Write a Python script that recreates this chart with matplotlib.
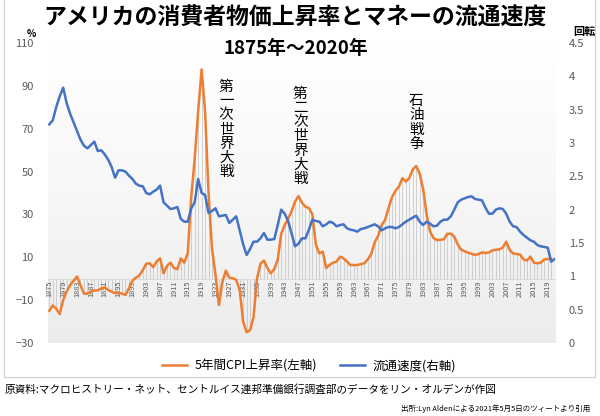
import numpy as np
import matplotlib
matplotlib.use("Agg")
import matplotlib.pyplot as plt
from matplotlib.colors import LinearSegmentedColormap
from matplotlib.lines import Line2D

plt.rcParams['font.family'] = ['Noto Sans CJK JP', 'DejaVu Sans']

# ---- data ----
start_year = 1875
cpi_5y = [
    -15, -12.5, -14, -16.5, -10, -6, -3, -1, 1, -3,            # 1875-1884
    -7, -7, -6, -5.5, -5.5, -4.5, -4, -5.3, -6, -6.8,          # 1885-1894
    -6.5, -7, -7.6, -4.5, -1, 0.5, 1.5, 4, 7, 7.2,             # 1895-1904
    5.4, 8, 9.5, 2.5, 6, 7.5, 5, 4.5, 9.5, 7.5,                # 1905-1914
    12, 38, 56, 78, 97.7, 78, 40, 14, 2, -12.3,                # 1915-1924
    -1.5, 3.8, 0.5, 0.2, -0.5, -5.3, -20, -25, -24, -18,       # 1925-1934
    0, 7, 8.5, 5, 2.5, 4.5, 9, 21, 25, 28,                     # 1935-1944
    31.5, 36, 38.6, 35.5, 33.6, 33, 30, 16, 11.8, 12.6,        # 1945-1954
    5, 6.5, 7.5, 8, 10.3, 9.5, 8, 6.4, 6.4, 6.4,               # 1955-1964
    6.8, 7.2, 9, 11.5, 17, 20, 25, 27.4, 33, 38,               # 1965-1974
    41, 43, 46.9, 45.3, 47, 51, 52.6, 49, 42, 30,              # 1975-1984
    22, 19, 18, 18.2, 18.4, 21, 21, 19.6, 16, 13.5,            # 1985-1994
    12.8, 12.2, 11.6, 11.1, 11.5, 12.3, 12, 12.2, 13.2, 13.5,  # 1995-2004
    13.7, 14.5, 17.3, 13.4, 11.8, 11.5, 11.3, 9, 8.5, 10.3,    # 2005-2014
    7.5, 7.2, 7.5, 9, 9.2, 9.3,                                # 2015-2020
]
velocity = [
    3.28, 3.34, 3.54, 3.70, 3.83, 3.60, 3.44, 3.31, 3.18, 3.05,  # 1875-1884
    2.96, 2.92, 2.97, 3.02, 2.88, 2.89, 2.83, 2.75, 2.64, 2.48,  # 1885-1894
    2.59, 2.59, 2.57, 2.51, 2.46, 2.39, 2.36, 2.35, 2.25, 2.23,  # 1895-1904
    2.27, 2.30, 2.36, 2.11, 2.06, 2.01, 2.02, 2.04, 1.86, 1.82,  # 1905-1914
    1.82, 2.02, 2.11, 2.46, 2.25, 2.22, 1.95, 1.98, 2.02, 1.90,  # 1915-1924
    1.91, 1.92, 1.80, 1.85, 1.90, 1.69, 1.48, 1.32, 1.41, 1.52,  # 1925-1934
    1.52, 1.57, 1.65, 1.55, 1.55, 1.56, 1.77, 2.00, 1.94, 1.83,  # 1935-1944
    1.64, 1.45, 1.49, 1.57, 1.57, 1.70, 1.85, 1.83, 1.82, 1.75,  # 1945-1954
    1.78, 1.82, 1.80, 1.75, 1.77, 1.78, 1.72, 1.70, 1.69, 1.67,  # 1955-1964
    1.71, 1.72, 1.74, 1.76, 1.78, 1.75, 1.69, 1.72, 1.74, 1.74,  # 1965-1974
    1.72, 1.74, 1.78, 1.82, 1.85, 1.88, 1.91, 1.82, 1.77, 1.82,  # 1975-1984
    1.79, 1.75, 1.76, 1.82, 1.85, 1.85, 1.90, 2.00, 2.11, 2.15,  # 1985-1994
    2.17, 2.19, 2.20, 2.16, 2.15, 2.14, 2.03, 1.94, 1.94, 2.00,  # 1995-2004
    2.02, 2.01, 1.94, 1.82, 1.75, 1.74, 1.67, 1.62, 1.58, 1.54,  # 2005-2014
    1.52, 1.47, 1.45, 1.44, 1.43, 1.22, 1.26,                    # 2015-2021
]
cpi_years = np.arange(start_year, start_year + len(cpi_5y))
vel_years = np.arange(start_year, start_year + len(velocity))
xtick_years = list(range(1875, 2020, 4))
left_ticks = list(range(-30, 111, 20))
right_ticks = [0, 0.5, 1, 1.5, 2, 2.5, 3, 3.5, 4, 4.5]

title = "アメリカの消費者物価上昇率とマネーの流通速度"
subtitle = "1875年～2020年"
label_cpi = "5年間CPI上昇率(左軸)"
label_vel = "流通速度(右軸)"
events = ["第一次世界大戦", "第二次世界大戦", "石油戦争"]
event_x = [1926.1, 1947.5, 1981.0]
event_y = [69.5, 66.5, 72.9]
source1 = "原資料:マクロヒストリー・ネット、セントルイス連邦準備銀行調査部のデータをリン・オルデンが作図"
source2 = "出所:Lyn Aldenによる2021年5月5日のツィートより引用"

ORANGE = "#ED7D31"
BLUE = "#4472C4"
GRAYTXT = "#595959"

W, H = 600, 416
fig = plt.figure(figsize=(6, 4.16), dpi=100)

def fx(px):
    return px / W

def fy(py):
    return 1 - py / H

# chart border (left, bottom, right)
fig.add_artist(Line2D([fx(4), fx(4), fx(595), fx(595)],
                      [fy(0), fy(377), fy(377), fy(0)],
                      transform=fig.transFigure, color="#d0d0d0", linewidth=0.8))

ax_l, ax_r, ax_t, ax_b = 47.6, 555, 43, 343
ax = fig.add_axes([fx(ax_l), fy(ax_b), (ax_r - ax_l) / W, (ax_b - ax_t) / H])

# gradient background
cmap = LinearSegmentedColormap.from_list("bg", ["#ffffff", "#f7f7f7", "#ececec"])
grad = np.linspace(0, 1, 256).reshape(-1, 1)
ax.imshow(grad, extent=[0, 1, 0, 1], transform=ax.transAxes, cmap=cmap,
          aspect="auto", zorder=0)

ax.vlines(cpi_years, 0, cpi_5y, colors="#c9c9c9", linewidth=0.6, zorder=1)
l1, = ax.plot(cpi_years, cpi_5y, color=ORANGE, linewidth=1.8, zorder=3,
              solid_joinstyle="round", label=label_cpi)

ax.set_xlim(1874.5, 2021.1)
ax.set_ylim(-30, 110)
ax.set_yticks(left_ticks)
ax.set_xticks(xtick_years)
ax.set_xticklabels([str(y) for y in xtick_years])
for s in ["top", "left", "right"]:
    ax.spines[s].set_visible(False)
ax.spines["bottom"].set_position(("data", 0))
ax.spines["bottom"].set_color("#d9d9d9")
ax.spines["bottom"].set_linewidth(0.6)
ax.tick_params(axis="x", length=0, labelsize=5.3, labelrotation=90,
               labelcolor=GRAYTXT, pad=1.5)
ax.tick_params(axis="y", length=0, labelsize=8, labelcolor=GRAYTXT, pad=10)

ax2 = ax.twinx()
l2, = ax2.plot(vel_years, velocity, color=BLUE, linewidth=1.8, zorder=3,
               solid_joinstyle="round", label=label_vel)
ax2.set_ylim(0, 4.5)
ax2.set_yticks(right_ticks)
ax2.yaxis.set_major_formatter(matplotlib.ticker.FormatStrFormatter("%g"))
for s in ax2.spines.values():
    s.set_visible(False)
ax2.tick_params(axis="y", length=0, labelsize=8, labelcolor=GRAYTXT, pad=10)

for txt, x, y in zip(events, event_x, event_y):
    ax.text(x, y, "\n".join(txt), ha="center", va="center", fontsize=10.5,
            linespacing=1.02, color="#000000", zorder=5)

fig.text(fx(295), fy(18), title, ha="center", va="center",
         fontsize=16.5, fontweight="bold")
fig.text(fx(296), fy(48), subtitle, ha="center", va="center",
         fontsize=13.5, fontweight="bold")
fig.text(fx(31), fy(34), "%", ha="center", va="center", fontsize=7,
         fontweight="bold")
fig.text(fx(584), fy(31), "回転", ha="center", va="center", fontsize=8,
         fontweight="bold")

fig.legend(handles=[l1, l2], loc="center", bbox_to_anchor=(fx(309), fy(366)),
           ncol=2, frameon=False, fontsize=9, handlelength=2.0,
           columnspacing=1.8, handletextpad=0.6)

fig.text(fx(5), fy(390), source1, ha="left", va="center", fontsize=7.7)
fig.text(fx(590), fy(409), source2, ha="right", va="center", fontsize=5.4)

fig.savefig("out.png", dpi=100)
